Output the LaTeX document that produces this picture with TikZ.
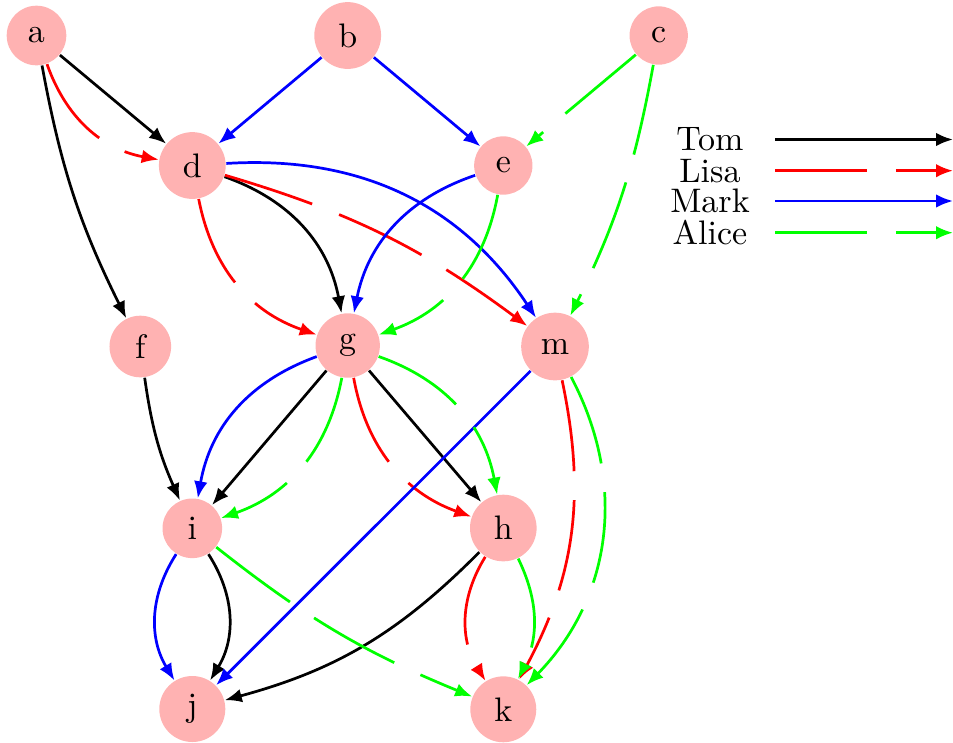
\documentclass[tikz,border=0pt]{standalone}
\usetikzlibrary{arrows.meta}
\begin{document}
\begin{tikzpicture}[x=0.294pt,y=0.294pt,yscale=-1,xscale=1,
  vertex/.style={circle,fill=red!30,inner sep=3.8pt},
  edge/.style={line width=0.8pt,-{Latex[length=5pt,width=4pt]}},
  tomline/.style={edge,black},
  lisaline/.style={edge,red,dash pattern=on 27pt off 8.5pt},
  markline/.style={edge,blue},
  aliceline/.style={edge,green,dash pattern=on 27pt off 8.5pt}]
\useasboundingbox (0,0) rectangle (953,742);
% people (yscale=-1 flips bend left/right)
\node [vertex] (a) at (36.5,35.5) {a};
\node [vertex] (b) at (347.7,35.5) {b};
\node [vertex] (c) at (658.7,35.5) {c};
\node [vertex] (d) at (192.3,165.5) {d};
\node [vertex] (e) at (503.3,165.5) {e};
\node [vertex] (f) at (140.3,346.5) {f};
\node [vertex] (g) at (347.7,345.5) {g};
\node [vertex] (m) at (555,346.5) {m};
\node [vertex] (i) at (192.3,528.3) {i};
\node [vertex] (h) at (503.3,528) {h};
\node [vertex] (j) at (192.3,709) {j};
\node [vertex] (k) at (503.3,709.3) {k};
% Tom
\draw [tomline] (a) -- (d);
\draw [tomline] (a) to[bend left=8] (f);
\draw [tomline] (d) to[bend right] (g);
\draw [tomline] (f) to[bend left=8] (i);
\draw [tomline] (g) -- (i);
\draw [tomline] (g) -- (h);
\draw [tomline] (i) to[bend right=32] (j);
\draw [tomline] (h) to[bend right=15] (j);
% Lisa
\draw [lisaline] (a) to[bend left] (d);
\draw [lisaline] (d) to[bend left] (g);
\draw [lisaline] (d) to[bend right=10] (m);
\draw [lisaline] (g) to[bend left] (h);
\draw [lisaline] (m) to[bend right=20] (k);
\draw [lisaline] (h) to[bend left=32] (k);
% Mark
\draw [markline] (b) -- (d);
\draw [markline] (b) -- (e);
\draw [markline] (d) to[bend right] (m);
\draw [markline] (e) to[bend left] (g);
\draw [markline] (g) to[bend left] (i);
\draw [markline] (m) -- (j);
\draw [markline] (i) to[bend left=32] (j);
% Alice
\draw [aliceline] (c) -- (e);
\draw [aliceline] (c) to[bend right=8] (m);
\draw [aliceline] (e) to[bend right] (g);
\draw [aliceline] (g) to[bend right] (i);
\draw [aliceline] (g) to[bend right] (h);
\draw [aliceline] (m) to[bend right=36] (k);
\draw [aliceline] (h) to[bend right=26] (k);
\draw [aliceline] (i) to[bend left=8] (k);
% legend
\node (tom) at (710,139.5) {Tom};
\node (lisa) at (710,170.7) {Lisa};
\node (mark) at (710,201) {Mark};
\node (alice) at (710,232.7) {Alice};
\coordinate (tom0) at (775,139.5);
\coordinate (tom1) at (953,139.5);
\coordinate (lisa0) at (775,170.7);
\coordinate (lisa1) at (953,170.7);
\coordinate (mark0) at (775,201);
\coordinate (mark1) at (953,201);
\coordinate (alice0) at (775,232.7);
\coordinate (alice1) at (953,232.7);
\draw [tomline] (tom0) -- (tom1);
\draw [lisaline] (lisa0) -- (lisa1);
\draw [markline] (mark0) -- (mark1);
\draw [aliceline] (alice0) -- (alice1);
\end{tikzpicture}
\end{document}
